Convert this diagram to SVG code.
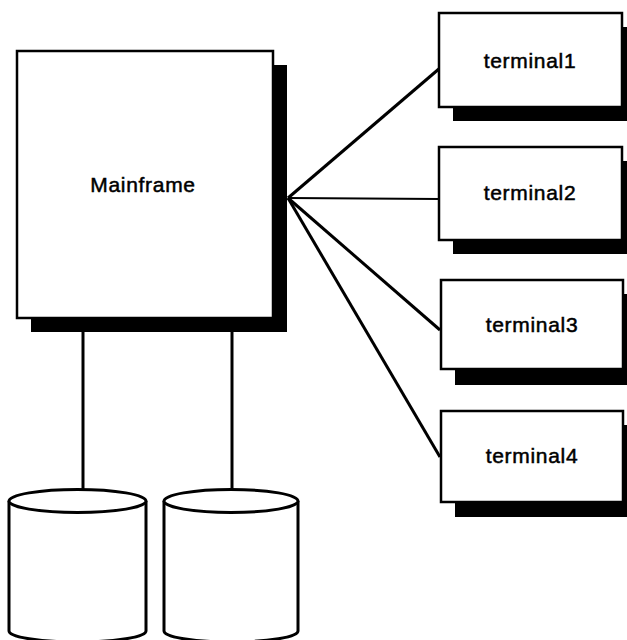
<svg xmlns="http://www.w3.org/2000/svg" width="627" height="640" viewBox="0 0 627 640">
  <style>
    .shadow { fill: #000; }
    .box { fill: #fff; stroke: #000; stroke-width: 2.5; }
    .disk { fill: #fff; stroke: #000; stroke-width: 3; }
    .label { font-family: "Liberation Sans", Arial, Helvetica, sans-serif; font-size: 21px; letter-spacing: 0.7px; text-anchor: middle; fill: #000; stroke: #000; stroke-width: 0.5px; }
    .link { stroke: #000; stroke-width: 3; fill: none; }
    .link.thin { stroke-width: 2; }
  </style>
  <rect width="627" height="640" fill="#fff"/>

  <!-- connectors -->
  <g id="connectors">
    <line class="link" x1="83" y1="330" x2="83" y2="492"/>
    <line class="link" x1="232" y1="330" x2="232" y2="492"/>
    <line class="link" x1="288" y1="198" x2="440" y2="68"/>
    <line class="link thin" x1="288" y1="198" x2="440" y2="199"/>
    <line class="link" x1="288" y1="198" x2="440" y2="330"/>
    <line class="link" x1="288" y1="198" x2="440" y2="457"/>
  </g>

  <g id="mainframe">
    <rect class="shadow" x="31" y="65" width="256" height="267"/>
    <rect class="box" x="17" y="51" width="256" height="267"/>
    <text class="label" x="143" y="192">Mainframe</text>
  </g>

  <g id="terminal1">
    <rect class="shadow" x="453" y="27" width="183" height="94"/>
    <rect class="box" x="439" y="13" width="183" height="94"/>
    <text class="label" x="530" y="68">terminal1</text>
  </g>

  <g id="terminal2">
    <rect class="shadow" x="453" y="161" width="183" height="93"/>
    <rect class="box" x="439" y="147" width="183" height="93"/>
    <text class="label" x="530" y="200">terminal2</text>
  </g>

  <g id="terminal3">
    <rect class="shadow" x="455" y="294" width="183" height="91"/>
    <rect class="box" x="441" y="280" width="182" height="89"/>
    <text class="label" x="532" y="332">terminal3</text>
  </g>

  <g id="terminal4">
    <rect class="shadow" x="455" y="425" width="183" height="92"/>
    <rect class="box" x="441" y="411" width="182" height="91"/>
    <text class="label" x="532" y="463">terminal4</text>
  </g>

  <g id="disk1">
    <path class="disk" d="M9,501 L9,631 A68.5,11 0 0 0 146,631 L146,501"/>
    <ellipse class="disk" cx="77.5" cy="501" rx="68.5" ry="11.5"/>
  </g>

  <g id="disk2">
    <path class="disk" d="M164,501 L164,631 A67,11 0 0 0 298,631 L298,501"/>
    <ellipse class="disk" cx="231" cy="501" rx="67" ry="11.5"/>
  </g>
</svg>
